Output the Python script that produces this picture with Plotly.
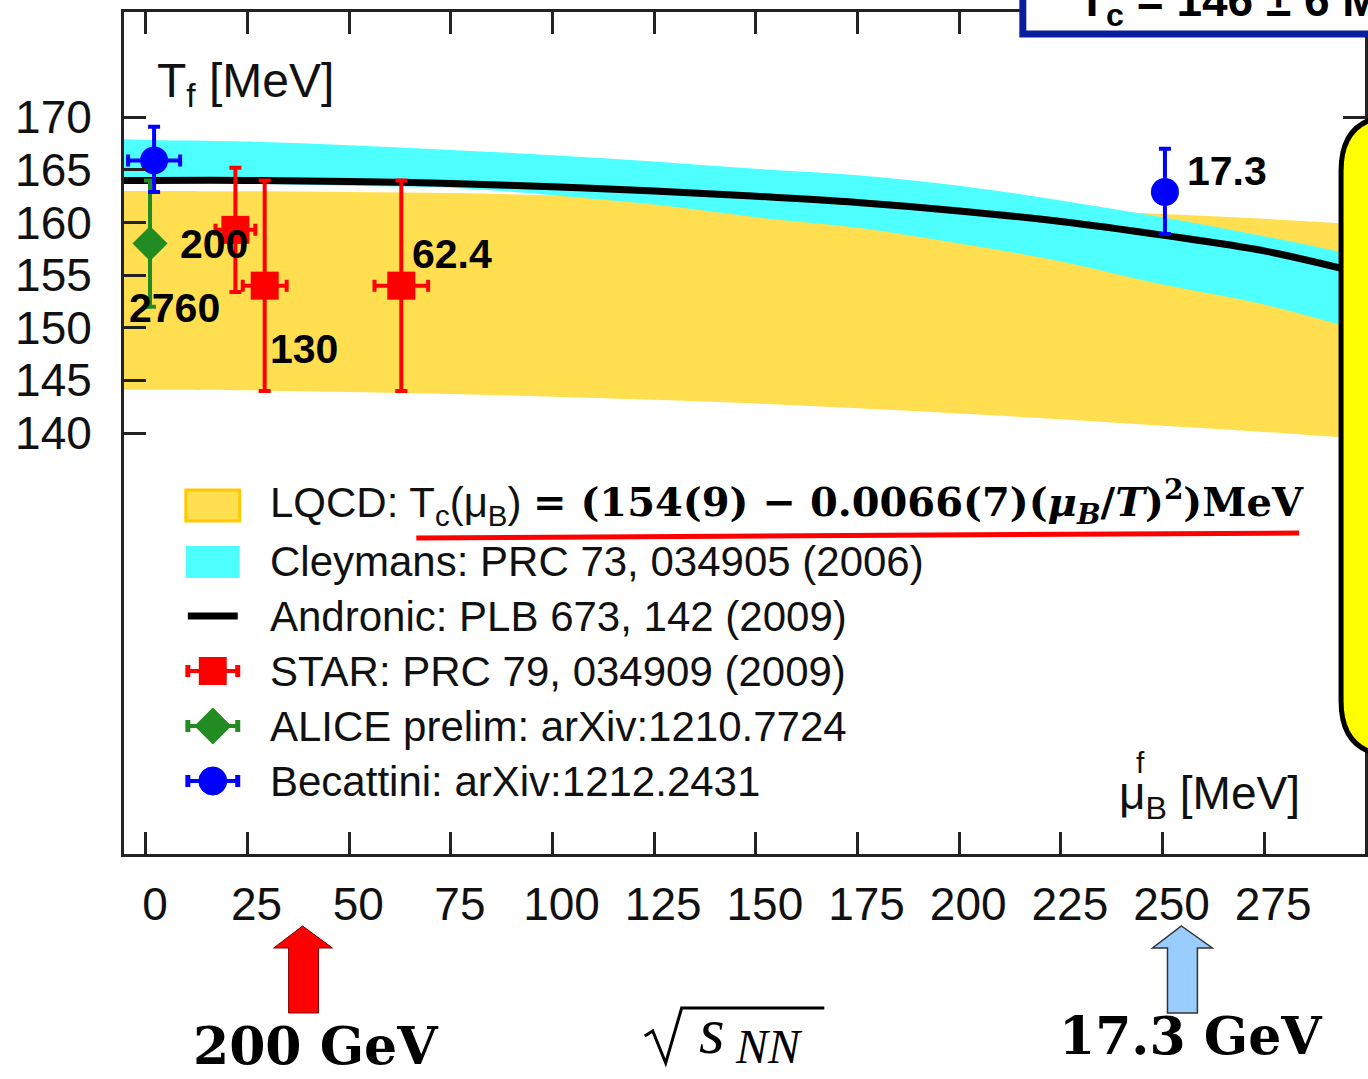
import plotly.graph_objects as go

# ---------------- data ----------------
mu_grid = [-5.4, 0, 25, 50, 75, 100, 125, 150, 175, 200, 225, 250, 275, 299.8]
lqcd_upper = [163.0, 163.0, 162.97, 162.9, 162.8, 162.6, 162.45, 162.2, 161.9, 161.55, 161.2, 160.8, 160.35, 159.8]
lqcd_lower = [144.1, 144.1, 144.05, 143.9, 143.7, 143.45, 143.15, 142.8, 142.35, 141.85, 141.3, 140.7, 140.1, 139.4]
cley_upper = [167.9, 167.85, 167.7, 167.35, 166.9, 166.4, 165.8, 165.1, 164.5, 163.5, 162.1, 160.5, 158.7, 156.7]
cley_lower = [163.8, 163.8, 163.7, 163.5, 163.3, 162.6, 161.7, 160.5, 159.5, 158.0, 156.3, 154.1, 152.2, 149.6]
andronic_T = [164.0, 164.0, 164.0, 163.9, 163.7, 163.4, 163.0, 162.5, 161.9, 161.1, 160.1, 158.8, 157.3, 155.1]

star_mu = [22.0, 29.2, 62.8]
star_T = [159.3, 154.0, 154.0]
star_dT = [5.9, 10.0, 10.0]
star_dmu = [4.9, 5.4, 6.6]

alice_mu = [1.0]
alice_T = [158.0]
alice_dT = [6.0]

bec_mu = [2.0, 250.6]
bec_T = [165.9, 162.9]
bec_dT_plus = [3.2, 4.1]
bec_dT_minus = [3.0, 4.0]
bec_dmu = [6.4, 0.0]

energy_labels = ["200", "2760", "130", "62.4", "17.3"]
energy_label_mu = [7.9, -4.7, 29.9, 65.0, 255.6]
energy_label_T = [158.0, 151.9, 148.0, 157.05, 164.9]

x_ticks = [0, 25, 50, 75, 100, 125, 150, 175, 200, 225, 250, 275]
y_ticks = [140, 145, 150, 155, 160, 165, 170]

# ---------------- geometry helpers (pixels -> paper) ----------------
W, H = 1368, 1079
ML, MR, MT, MB = 124, 0, 12, 225
PW = W - ML - MR
PH = H - MT - MB


def px(x):
    return (x - ML) / PW


def py(y):
    return (H - MB - y) / PH


SANS = "Liberation Sans, Arial, sans-serif"
SERIF = "DejaVu Serif, serif"
LSERIF = "Liberation Serif, Times New Roman, serif"
YEL = "#FFDF50"
CYAN = "#4DFFFF"
RED = "#FF0000"
GREEN = "#228B22"
BLUE = "#0000FF"

fig = go.Figure()

# LQCD band
fig.add_trace(go.Scatter(x=mu_grid, y=lqcd_lower, mode="lines", line=dict(width=0, shape="spline"),
                         showlegend=False, hoverinfo="skip"))
fig.add_trace(go.Scatter(x=mu_grid, y=lqcd_upper, mode="lines", line=dict(width=0, shape="spline"),
                         fill="tonexty", fillcolor=YEL, showlegend=False, hoverinfo="skip"))
# Cleymans band
fig.add_trace(go.Scatter(x=mu_grid, y=cley_lower, mode="lines", line=dict(width=0, shape="spline"),
                         showlegend=False, hoverinfo="skip"))
fig.add_trace(go.Scatter(x=mu_grid, y=cley_upper, mode="lines", line=dict(width=0, shape="spline"),
                         fill="tonexty", fillcolor=CYAN, showlegend=False, hoverinfo="skip"))
# Andronic
fig.add_trace(go.Scatter(x=mu_grid, y=andronic_T, mode="lines",
                         line=dict(color="black", width=7, shape="spline"), showlegend=False))
# STAR
fig.add_trace(go.Scatter(x=star_mu, y=star_T, mode="markers",
                         marker=dict(symbol="square", size=28, color=RED),
                         error_y=dict(type="data", array=star_dT, color=RED, thickness=4, width=6),
                         error_x=dict(type="data", array=star_dmu, color=RED, thickness=4, width=6),
                         showlegend=False))
# ALICE
fig.add_trace(go.Scatter(x=alice_mu, y=alice_T, mode="markers",
                         marker=dict(symbol="diamond", size=27, color=GREEN),
                         error_y=dict(type="data", array=alice_dT, color=GREEN, thickness=4, width=6),
                         showlegend=False))
# Becattini
fig.add_trace(go.Scatter(x=bec_mu, y=bec_T, mode="markers",
                         marker=dict(symbol="circle", size=28, color=BLUE),
                         error_y=dict(type="data", symmetric=False, array=bec_dT_plus,
                                      arrayminus=bec_dT_minus, color=BLUE, thickness=4, width=6),
                         error_x=dict(type="data", array=bec_dmu, color=BLUE, thickness=4, width=6),
                         showlegend=False))

annotations = []
for t, xm, yt in zip(energy_labels, energy_label_mu, energy_label_T):
    annotations.append(dict(x=xm, y=yt, xref="x", yref="y", text=t, showarrow=False,
                            xanchor="left", yanchor="middle",
                            font=dict(family=SANS, size=41, color="black", weight="bold")))


def ann(x, y, text, size, family=SANS, xanchor="left", yanchor="middle", color="#111", **kw):
    annotations.append(dict(x=px(x), y=py(y), xref="paper", yref="paper", text=text, showarrow=False,
                            xanchor=xanchor, yanchor=yanchor,
                            font=dict(family=family, size=size, color=color, **kw)))


# axis titles inside the frame
ann(155, 84, "T<sub>f</sub> [MeV]", 48)
ann(1305, 796, "μ<sub>B</sub> [MeV]", 46, xanchor="right")
ann(1143, 762, "f", 30, xanchor="center")

# legend texts
leg_y = [505, 561, 616, 671, 726, 781]
ann(268, leg_y[0], "LQCD: T<sub>c</sub>(μ<sub>B</sub>)", 42)
ann(532, leg_y[0] - 3,
    "= (154(9) − 0.0066(7)(<i>μ<sub>B</sub></i>/<i>T</i>)<sup>2</sup>)MeV", 40, family=SERIF,
    color="black", weight="bold")
ann(268, leg_y[1], "Cleymans: PRC 73, 034905 (2006)", 42)
ann(268, leg_y[2], "Andronic: PLB 673, 142 (2009)", 42)
ann(268, leg_y[3], "STAR: PRC 79, 034909 (2009)", 42)
ann(268, leg_y[4], "ALICE prelim: arXiv:1210.7724", 42)
ann(268, leg_y[5], "Becattini: arXiv:1212.2431", 42)

# texts below the axis
ann(316, 1045, "200 GeV", 52, family=SERIF, xanchor="center", color="black", weight="bold")
ann(1194, 1035, "17.3 GeV", 52, family=SERIF, xanchor="center", color="black", weight="bold")
ann(698, 1030, "<i>s</i>", 66, family=LSERIF, color="black")
ann(734, 1046, "<i>NN</i>", 48, family=LSERIF, color="black")

# blue box text
ann(1078, 4, "T<sub>c</sub> = 146 ± 6 MeV", 46, color="black", weight="bold")

shapes = []


def rect(x0, y0, x1, y1, fill, lc=None, lw=0, layer="above"):
    shapes.append(dict(type="rect", xref="paper", yref="paper", x0=px(x0), x1=px(x1), y0=py(y0), y1=py(y1),
                       fillcolor=fill, line=dict(color=lc or fill, width=lw), layer=layer))


def line(x0, y0, x1, y1, color, w):
    shapes.append(dict(type="line", xref="paper", yref="paper", x0=px(x0), x1=px(x1), y0=py(y0), y1=py(y1),
                       line=dict(color=color, width=w), layer="above"))


def path(pts, fill, lc, lw, close=True):
    d = "M" + " L".join(f"{px(a):.5f},{py(b):.5f}" for a, b in pts) + (" Z" if close else "")
    shapes.append(dict(type="path", xref="paper", yref="paper", path=d,
                       fillcolor=fill, line=dict(color=lc, width=lw), layer="above"))


# legend symbols
rect(186, 521, 240, 490, YEL, "#FFC800", 3)
rect(186, 578, 240, 546, CYAN)
line(188, leg_y[2], 238, leg_y[2], "black", 7)
for yc, col in [(leg_y[3], RED), (leg_y[4], GREEN), (leg_y[5], BLUE)]:
    line(187, yc, 239, yc, col, 4)
    line(188, yc - 6, 188, yc + 6, col, 5)
    line(238, yc - 6, 238, yc + 6, col, 5)
rect(199, leg_y[3] + 14, 227, leg_y[3] - 14, RED)
path([(195, leg_y[4]), (213, leg_y[4] - 18), (231, leg_y[4]), (213, leg_y[4] + 18)], GREEN, GREEN, 1)
shapes.append(dict(type="circle", xref="paper", yref="paper", x0=px(199), x1=px(227),
                   y0=py(leg_y[5] + 14), y1=py(leg_y[5] - 14), fillcolor=BLUE,
                   line=dict(color=BLUE, width=1), layer="above"))

# red underline
line(417, 538, 1302, 533, RED, 5)

# arrows
path([(303, 926), (333, 948), (319, 948), (319, 1013), (289, 1013), (289, 948), (274, 948)], RED, "#7a0000", 1)
path([(1184, 926), (1215, 948), (1200, 948), (1200, 1013), (1170, 1013), (1170, 948), (1155, 948)],
     "#99CCFF", "#333333", 1.5)

# sqrt sign
path([(646, 1036), (654, 1031), (667, 1063), (683, 1008), (826, 1008)], "rgba(0,0,0,0)", "black", 3,
     close=False)

# yellow rounded box on the right
X0, X1, Y0, Y1, R = 1344, 1460, 116, 756, 55
d = (f"M{px(X0)},{py(Y0 + R)} Q{px(X0)},{py(Y0)} {px(X0 + R)},{py(Y0)} L{px(X1)},{py(Y0)} "
     f"L{px(X1)},{py(Y1)} L{px(X0 + R)},{py(Y1)} Q{px(X0)},{py(Y1)} {px(X0)},{py(Y1 - R)} Z")
shapes.append(dict(type="path", xref="paper", yref="paper", path=d, fillcolor="#FFFF00",
                   line=dict(color="black", width=5), layer="above"))

# blue box at top right
rect(1025, 34, 1460, -80, "white", "#0A1E9E", 7)

fig.update_layout(
    width=W, height=H, autosize=False,
    margin=dict(l=ML, r=MR, t=MT, b=MB, pad=0),
    paper_bgcolor="white", plot_bgcolor="white",
    showlegend=False,
    annotations=annotations, shapes=shapes,
    xaxis=dict(range=[-5.4, 299.8], tickvals=x_ticks, ticks="inside", ticklen=22, tickwidth=3,
               tickcolor="#222", showline=True, linewidth=3, linecolor="#222", mirror="ticks",
               showgrid=False, zeroline=False,
               tickfont=dict(family=SANS, size=46, color="#111"),
               ticklabelstandoff=8, ticklabelshift=9),
    yaxis=dict(range=[100, 180], tickvals=y_ticks, ticks="inside", ticklen=22, tickwidth=3,
               tickcolor="#222", showline=True, linewidth=3, linecolor="#222", mirror="ticks",
               showgrid=False, zeroline=False,
               tickfont=dict(family=SANS, size=46, color="#111"),
               ticklabelstandoff=20),
)

fig.write_html("out.html", config={"displayModeBar": False})
